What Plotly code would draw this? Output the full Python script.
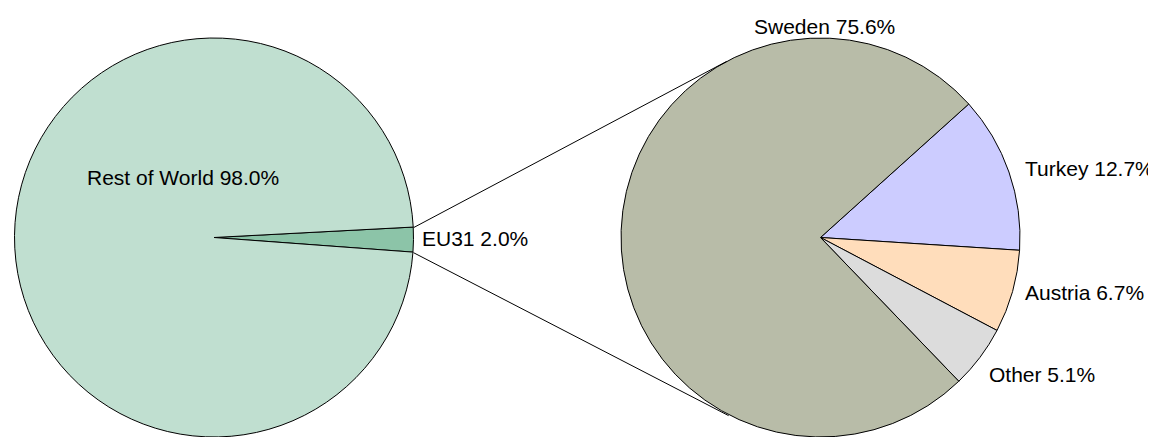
import math
import plotly.graph_objects as go

W, H = 1156, 437
OFF = 8  # the page body has a default 8px margin, figure starts there

# first pie: world split
world_labels = ["EU31", "Rest of World"]
world_values = [2.0, 98.0]
world_colors = ["#8CC4A8", "#C0DFD0"]

# second pie: breakdown of EU31
eu_labels = ["Turkey", "Austria", "Other", "Sweden"]
eu_values = [12.7, 6.7, 5.1, 75.6]
eu_colors = ["#CCCCFF", "#FFDDBB", "#DCDCDC", "#B8BCA8"]

# pie geometry in window pixels
R = 200
left_cx, right_cx, cy = 214, 820.5, 238
left_rot, right_rot = 87.0, 48.0

FONT = "Liberation Sans, Arial, sans-serif"
FS = 21

FW, FH = W - OFF, H - OFF


def px(x, y):
    # window pixel -> paper coords of the figure
    return (x - OFF) / FW, 1 - (y - OFF) / FH


def domain(cx):
    x0, y0 = px(cx - R, cy + R)
    x1, y1 = px(cx + R, cy - R)
    return dict(x=[x0, x1], y=[max(0, y0), min(1, y1)])


fig = go.Figure()
fig.add_trace(go.Pie(
    labels=world_labels, values=world_values, sort=False, direction="clockwise",
    rotation=left_rot, domain=domain(left_cx), textinfo="none",
    marker=dict(colors=world_colors, line=dict(color="black", width=1)),
))
fig.add_trace(go.Pie(
    labels=eu_labels, values=eu_values, sort=False, direction="clockwise",
    rotation=right_rot, domain=domain(right_cx), textinfo="none",
    marker=dict(colors=eu_colors, line=dict(color="black", width=1)),
))

# connector lines: from EU31 slice corners, tangent to the second pie
total = sum(world_values)
a0 = math.radians(left_rot)
a1 = math.radians(left_rot + world_values[0] / total * 360)
corners = [(left_cx + R * math.sin(a), cy - R * math.cos(a)) for a in (a0, a1)]

for (x0, y0), sign in zip(corners, (-1, 1)):
    dx, dy = right_cx - x0, cy - y0
    d = math.hypot(dx, dy)
    phi = math.atan2(dy, dx) + sign * math.asin(R / d)
    L = math.sqrt(d * d - R * R)
    x1, y1 = x0 + L * math.cos(phi), y0 + L * math.sin(phi)
    p0, p1 = px(x0, y0), px(x1, y1)
    fig.add_shape(type="line", xref="paper", yref="paper",
                  x0=p0[0], y0=p0[1], x1=p1[0], y1=p1[1],
                  line=dict(color="black", width=1))

# labels
label_pos = [
    ("Rest of World", world_values[1], 182.5, 177, "center"),
    ("EU31", world_values[0], 420, 238, "left"),
    ("Sweden", eu_values[3], 824, 26, "center"),
    ("Turkey", eu_values[0], 1023, 168, "left"),
    ("Austria", eu_values[1], 1023, 292, "left"),
    ("Other", eu_values[2], 987, 374, "left"),
]
for name, val, x, y, anchor in label_pos:
    ax, ay = px(x, y)
    fig.add_annotation(x=ax, y=ay, xref="paper", yref="paper", xanchor=anchor,
                       yanchor="middle", text=f"{name} {val:.1f}%", showarrow=False,
                       font=dict(family=FONT, size=FS, color="black"))

fig.update_layout(
    width=FW, height=FH, margin=dict(l=0, r=0, t=0, b=0),
    showlegend=False, paper_bgcolor="white", plot_bgcolor="white",
)

fig.write_html("out.html")
